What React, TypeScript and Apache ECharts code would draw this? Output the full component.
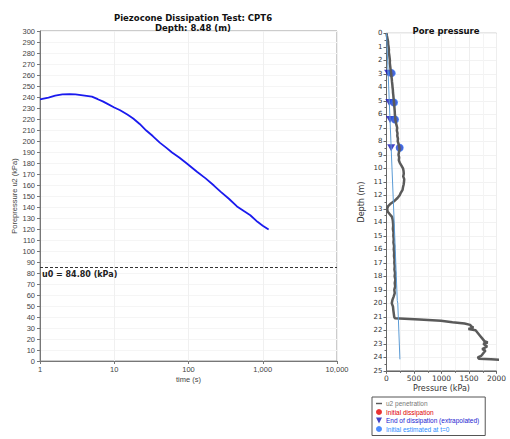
import React, { useEffect, useRef } from "react";
import * as echarts from "echarts";

// ---- Dissipation test (left chart) ----
const dissTime = [1, 1.3, 1.6, 2, 2.5, 3, 4, 5, 6, 7, 8, 10, 12, 15, 18, 22, 27, 33, 41, 50, 60, 75, 95, 130, 170, 220, 270, 350, 450, 550, 680, 850, 1000, 1200];
const dissU2 = [237.9, 239.5, 241.2, 242.4, 242.6, 242.3, 241.3, 240.3, 238, 236, 234, 230.5, 228, 224, 220.5, 215.5, 209.5, 204.5, 198.5, 194, 189.5, 185, 179.5, 172, 166, 159.5, 154, 147.5, 140.5, 136.5, 132.5, 126.5, 123, 119.5];
const u0Value = 84.8;
const timeTicks = [1, 10, 100, 1000, 10000];

// ---- Pore pressure profile (right chart) ----
const u2Depth = [
  0, 0.2, 0.4, 0.6, 0.8, 1.0, 1.2, 1.4, 1.6, 1.8, 2.0, 2.2, 2.4, 2.6, 2.8, 3.0, 3.2, 3.4, 3.6, 3.8,
  4.0, 4.2, 4.4, 4.6, 4.8, 5.0, 5.2, 5.4, 5.6, 5.8, 6.0, 6.2, 6.4, 6.6, 6.8, 7.0, 7.2, 7.4, 7.6, 7.8,
  8.0, 8.2, 8.4, 8.6, 8.8, 9.0, 9.2, 9.4, 9.6, 9.8, 10.0, 10.2, 10.4, 10.6, 10.8, 11.0, 11.2, 11.4, 11.6, 11.8,
  12.0, 12.2, 12.4, 12.6, 12.8, 13.0, 13.2, 13.4, 13.6, 13.8,
  14.0, 14.25, 14.5, 14.75, 15.0, 15.25, 15.5, 15.75, 16.0, 16.25, 16.5, 16.75, 17.0, 17.25, 17.5, 17.75,
  18.0, 18.25, 18.5, 18.75, 19.0, 19.25, 19.5, 19.75, 20.0, 20.25, 20.5, 20.75, 21.0, 21.1,
  21.2, 21.3, 21.4, 21.5, 21.6, 21.7, 21.8, 21.9, 22.0, 22.2, 22.4, 22.6, 22.8, 22.9, 23.0, 23.2, 23.4, 23.5,
  23.7, 23.9, 24.0, 24.1, 24.15, 24.2
];
const u2Pressure = [
  0, 8, 18, 28, 30, 38, 44, 42, 50, 56, 62, 60, 66, 72, 78, 86, 90, 96, 100, 106,
  110, 116, 118, 124, 128, 134, 138, 142, 146, 150, 152, 158, 162, 170, 182, 194, 188, 200, 196, 208,
  204, 220, 232, 238, 226, 218, 230, 224, 242, 272, 300, 310, 314, 304, 322, 318, 312, 300, 292, 262,
  240, 200, 150, 80, 30, 12, 20, 60, 100, 112,
  118, 122, 116, 128, 124, 132, 126, 138, 132, 140, 136, 146, 142, 150, 144, 156,
  148, 162, 150, 158, 142, 150, 130, 108, 96, 118, 124, 132, 140, 150,
  600, 990, 1200, 1420, 1520, 1540, 1580, 1490, 1620, 1660, 1700, 1740, 1780, 1840, 1760, 1830, 1740, 1800,
  1760, 1720, 1660, 1680, 1900, 2100
];
const u0LineDepth = [0, 14, 19.8, 20, 24.15];
const u0LinePressure = [0, 140, 196, 205, 244];

const testDepth = [2.95, 5.12, 6.38, 8.48];
const initialDissipation = [88, 130, 150, 237.9];
const endDissipation = [29.5, 51.2, 63.8, 84.8];
const initialEstimated = [94, 136, 155, 240];

const pressureTicks = [0, 500, 1000, 1500, 2000];

const TICK_FONT = "Liberation Sans";
const BOLD_FONT = "DejaVu Sans";

export default function App() {
  const ref = useRef<HTMLDivElement>(null);

  useEffect(() => {
    if (!ref.current) return;
    const chart = echarts.init(ref.current, undefined, { renderer: "svg" });

    const option: any = {
      animation: false,
      backgroundColor: "#ffffff",
      title: [
        {
          text: "Piezocone Dissipation Test: CPT6\nDepth: 8.48 (m)",
          left: 188,
          top: 8,
          textAlign: "center",
          textStyle: { fontSize: 8.5, fontWeight: "bold", fontFamily: BOLD_FONT, lineHeight: 10, color: "#111" },
        },
        {
          text: "Pore pressure",
          left: 441,
          top: 21,
          textAlign: "center",
          textStyle: { fontSize: 8.5, fontWeight: "bold", fontFamily: BOLD_FONT, color: "#111" },
        },
      ],
      legend: {
        left: 372,
        top: 397,
        orient: "vertical",
        itemGap: 1.5,
        itemWidth: 6,
        itemHeight: 6,
        padding: [3, 6, 3, 4],
        borderColor: "#555",
        borderWidth: 1,
        textStyle: { fontSize: 6.5, fontFamily: TICK_FONT, padding: [0, 0, 0, -1] },
        data: [
          { name: "u2 penetration", icon: "path://M0,0M0,3.8L10,3.8L10,6.2L0,6.2ZM10,10", textStyle: { color: "#777" } },
          { name: "Initial dissipation", icon: "circle", textStyle: { color: "#e00000" } },
          { name: "End of dissipation (extrapolated)", icon: "path://M0,0L10,0L5,10Z", textStyle: { color: "#1a1ad0" } },
          { name: "Initial estimated at t=0", icon: "circle", textStyle: { color: "#2a8cff" } },
        ],
      },
      grid: [
        { left: 40, top: 31, width: 297, height: 330, show: true, borderColor: "#999", borderWidth: 1, containLabel: false, outerBoundsMode: "none" },
        { left: 386.5, top: 33.3, width: 110, height: 337.5, show: true, borderColor: "#888", borderWidth: 1, containLabel: false, outerBoundsMode: "none" },
      ],
      xAxis: [
        {
          gridIndex: 0,
          type: "log",
          logBase: 10,
          min: timeTicks[0],
          max: timeTicks[timeTicks.length - 1],
          name: "time (s)",
          nameLocation: "middle",
          nameGap: 14,
          nameMoveOverlap: false,
          nameTextStyle: { fontSize: 7.5, fontFamily: TICK_FONT, color: "#444" },
          axisLine: { show: true, lineStyle: { color: "#777" } },
          axisTick: { show: true, length: 3, lineStyle: { color: "#777" } },
          axisLabel: {
            fontSize: 7.5,
            fontFamily: TICK_FONT,
            color: "#444",
            margin: 4,
            formatter: (v: number) => Math.round(v).toLocaleString("en-US"),
          },
          splitLine: { show: true, lineStyle: { color: "#f0f0f0" } },
        },
        {
          gridIndex: 1,
          type: "value",
          min: pressureTicks[0],
          max: pressureTicks[pressureTicks.length - 1],
          interval: 500,
          name: "Pressure (kPa)",
          nameLocation: "middle",
          nameGap: 14,
          nameMoveOverlap: false,
          nameTextStyle: { fontSize: 8, fontFamily: BOLD_FONT, color: "#333" },
          axisLine: { show: true, onZero: false, lineStyle: { color: "#666" } },
          axisTick: { show: true, length: 3, lineStyle: { color: "#666" } },
          minorTick: { show: true, splitNumber: 2, length: 2, lineStyle: { color: "#666" } },
          axisLabel: { fontSize: 7.5, fontFamily: BOLD_FONT, color: "#333", margin: 4, formatter: (v: number) => String(v) },
          splitLine: { show: true, lineStyle: { color: "#eeeeee" } },
          minorSplitLine: { show: true, lineStyle: { color: "#f4f4f4" } },
        },
      ],
      yAxis: [
        {
          gridIndex: 0,
          type: "value",
          min: 0,
          max: 300,
          interval: 10,
          name: "Porepressure u2 (kPa)",
          nameLocation: "middle",
          nameGap: 22,
          nameMoveOverlap: false,
          nameTextStyle: { fontSize: 7.5, fontFamily: TICK_FONT, color: "#444" },
          axisLine: { show: true, lineStyle: { color: "#777" } },
          axisTick: { show: true, length: 3, lineStyle: { color: "#777" } },
          axisLabel: { fontSize: 7.5, fontFamily: TICK_FONT, color: "#444", margin: 5 },
          splitLine: { show: true, lineStyle: { color: "#f5f5f5" } },
        },
        {
          gridIndex: 1,
          type: "value",
          inverse: true,
          min: 0,
          max: 25,
          interval: 1,
          name: "Depth (m)",
          nameLocation: "middle",
          nameGap: 21,
          nameMoveOverlap: false,
          nameTextStyle: { fontSize: 8, fontFamily: BOLD_FONT, color: "#333" },
          axisLine: { show: true, onZero: false, lineStyle: { color: "#666" } },
          axisTick: { show: true, length: 3, lineStyle: { color: "#666" } },
          minorTick: { show: true, splitNumber: 2, length: 2, lineStyle: { color: "#666" } },
          axisLabel: { fontSize: 7, fontFamily: BOLD_FONT, color: "#333", margin: 4 },
          splitLine: { show: true, lineStyle: { color: "#f2f2f2" } },
        },
      ],
      series: [
        {
          name: "dissipation",
          type: "line",
          xAxisIndex: 0,
          yAxisIndex: 0,
          data: dissTime.map((t, i) => [t, dissU2[i]]),
          showSymbol: false,
          symbol: "none",
          lineStyle: { color: "#1a1aee", width: 1.8 },
          markLine: {
            silent: true,
            symbol: "none",
            lineStyle: { color: "#333", type: [3, 2], width: 1 },
            label: {
              show: true,
              position: "insideStartBottom",
              formatter: `u0 = ${u0Value.toFixed(2)} (kPa)`,
              fontSize: 8,
              fontWeight: "bold",
              fontFamily: BOLD_FONT,
              color: "#222",
              distance: [2, 3],
            },
            data: [{ yAxis: u0Value }],
          },
        },
        {
          name: "u2 penetration",
          type: "line",
          xAxisIndex: 1,
          yAxisIndex: 1,
          data: u2Depth.map((d, i) => [u2Pressure[i], d]),
          showSymbol: false,
          symbol: "none",
          clip: true,
          color: "#5a5a5a",
          lineStyle: { color: "#5a5a5a", width: 2.5 },
        },
        {
          name: "u0",
          type: "line",
          xAxisIndex: 1,
          yAxisIndex: 1,
          data: u0LineDepth.map((d, i) => [u0LinePressure[i], d]),
          showSymbol: false,
          symbol: "none",
          lineStyle: { color: "#5b9bd5", width: 1 },
        },
        {
          name: "Initial dissipation",
          type: "scatter",
          xAxisIndex: 1,
          yAxisIndex: 1,
          data: testDepth.map((d, i) => [initialDissipation[i], d]),
          symbol: "circle",
          symbolSize: 7,
          itemStyle: { color: "#e60000" },
        },
        {
          name: "End of dissipation (extrapolated)",
          type: "scatter",
          xAxisIndex: 1,
          yAxisIndex: 1,
          data: testDepth.map((d, i) => [endDissipation[i], d]),
          symbol: "path://M0,0L10,0L5,10Z",
          symbolSize: [8, 7],
          itemStyle: { color: "#1414b8" },
        },
        {
          name: "Initial estimated at t=0",
          type: "scatter",
          xAxisIndex: 1,
          yAxisIndex: 1,
          data: testDepth.map((d, i) => [initialEstimated[i], d]),
          symbol: "circle",
          symbolSize: 8,
          itemStyle: { color: "#1f6fff" },
        },
      ],
    };

    chart.setOption(option);
    return () => chart.dispose();
  }, []);

  return (
    <div
      ref={ref}
      style={{ position: "absolute", left: 0, top: 0, width: 510, height: 439 }}
    />
  );
}
